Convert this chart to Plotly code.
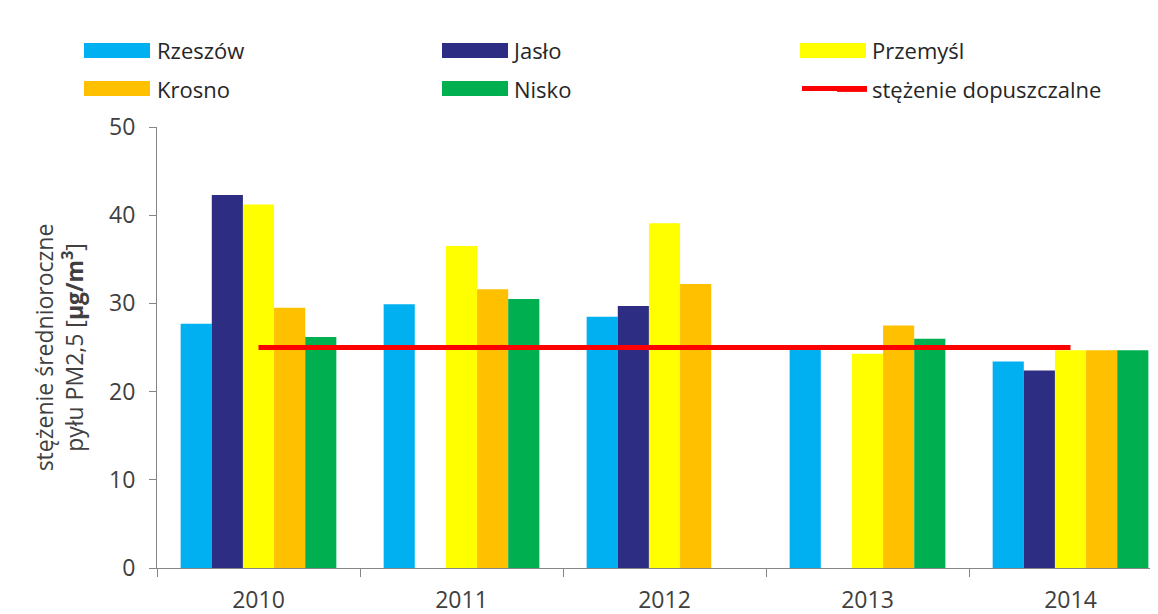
import plotly.graph_objects as go

years = ["2010", "2011", "2012", "2013", "2014"]
rzeszow = [27.7, 29.9, 28.5, 25.0, 23.4]
jaslo = [42.3, None, 29.7, None, 22.4]
przemysl = [41.2, 36.5, 39.1, 24.3, 24.7]
krosno = [29.5, 31.6, 32.2, 27.5, 24.7]
nisko = [26.2, 30.5, None, 26.0, 24.7]
limit = [25, 25, 25, 25, 25]
limit_name = "stężenie dopuszczalne"

colors = {"Rzeszów": "#00B0F0", "Jasło": "#2E2D84", "Przemyśl": "#FFFF00",
          "Krosno": "#FFC000", "Nisko": "#00B050", "limit": "#FF0000"}

series = [
    ("Rzeszów", rzeszow, "legend"),
    ("Jasło", jaslo, "legend2"),
    ("Przemyśl", przemysl, "legend3"),
    ("Krosno", krosno, "legend"),
    ("Nisko", nisko, "legend2"),
]

FONT = "Open Sans"
fig = go.Figure()
for name, vals, lg in series:
    fig.add_trace(go.Bar(x=years, y=vals, name=name, marker_color=colors[name],
                         marker_line_width=0, legend=lg, legendgroup=name))

fig.add_trace(go.Scatter(x=years, y=limit, name=limit_name, mode="lines",
                         line=dict(color=colors["limit"], width=5), legend="legend3",
                         legendgroup="limit"))

# page body has an 8px margin; figure coords = screen - 8
W, H = 1150, 606
ml, mr, mt, mb = 149, 0, 119, 46
pw, ph = W - ml - mr, H - mt - mb


def py(px):  # figure pixel (from top) -> paper y
    return (H - mb - px) / ph


def px_(x):  # figure pixel (from left) -> paper x
    return (x - ml) / pw


legend_common = dict(font=dict(family=FONT, size=22, color="#262626"),
                     bgcolor="rgba(0,0,0,0)", yanchor="top", xanchor="left",
                     tracegroupgap=7, itemwidth=30)

# wide legend swatches (Excel style), drawn under the legend symbols
swatches = []
for name, x0, yc in [("Rzeszów", 76, 42.5), ("Krosno", 76, 80.5),
                     ("Jasło", 434, 42.5), ("Nisko", 434, 80.5),
                     ("Przemyśl", 792, 42.5)]:
    swatches.append(dict(type="rect", xref="paper", yref="paper",
                         x0=px_(x0), x1=px_(x0 + 66), y0=py(yc - 7.5), y1=py(yc + 7.5),
                         fillcolor=colors[name], line_width=0, layer="above"))
swatches.append(dict(type="line", xref="paper", yref="paper",
                     x0=px_(794), x1=px_(859), y0=py(80.5), y1=py(80.5),
                     line=dict(color=colors["limit"], width=5), layer="above"))

fig.update_layout(
    width=W, height=H,
    margin=dict(l=ml, r=mr, t=mt, b=mb, autoexpand=False),
    paper_bgcolor="white", plot_bgcolor="white",
    barmode="group", bargap=0.233, bargroupgap=0,
    font=dict(family=FONT, color="#404040"),
    legend=dict(x=px_(109), y=py(22), **legend_common),
    legend2=dict(x=px_(466), y=py(22), **legend_common),
    legend3=dict(x=px_(824), y=py(22), **legend_common),
    shapes=swatches,
    xaxis=dict(type="category", range=[-0.5, 4.431], tickson="boundaries",
               ticks="outside", ticklen=8, tickcolor="#868686",
               showline=True, linecolor="#868686", linewidth=1,
               showgrid=False, ticklabelstandoff=11,
               tickfont=dict(family=FONT, size=23, color="#404040")),
    yaxis=dict(range=[0, 50], dtick=10, ticks="outside", ticklen=7,
               tickcolor="#868686", showline=True, linecolor="#868686",
               linewidth=1, showgrid=False, zeroline=False,
               ticklabelstandoff=9,
               tickfont=dict(family=FONT, size=23, color="#404040"),
               title=dict(text="stężenie średnioroczne<br>pyłu PM2,5 [<b>µg/m<sup>3</sup></b>]",
                          font=dict(family=FONT, size=23, color="#404040"),
                          standoff=19)),
)

fig.write_html("out.html")
